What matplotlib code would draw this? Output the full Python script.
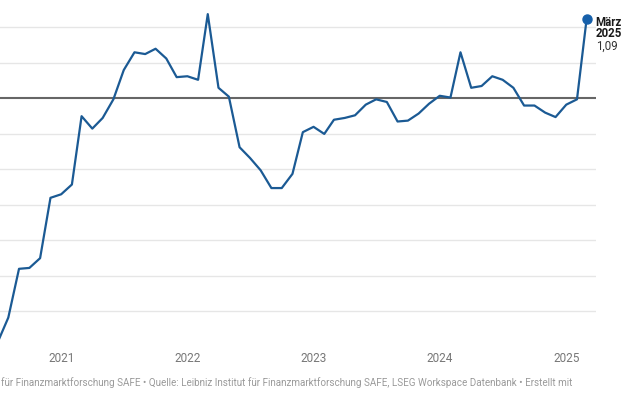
import pandas as pd
import matplotlib.pyplot as plt
import matplotlib.dates as mdates

plt.rcParams['font.family'] = ['Roboto', 'DejaVu Sans']

months = pd.date_range("2020-07-01", "2025-03-01", freq="MS")
values = [
    0.725, 0.753, 0.808, 0.809, 0.820, 0.888,             # 2020 Jul-Dec
    0.892, 0.903, 0.980, 0.966, 0.978, 0.999,             # 2021
    1.032, 1.052, 1.050, 1.056, 1.045, 1.024,
    1.025, 1.021, 1.095, 1.012, 1.002, 0.945,             # 2022
    0.933, 0.919, 0.899, 0.899, 0.915, 0.962,
    0.968, 0.960, 0.976, 0.978, 0.981, 0.993,             # 2023
    0.999, 0.996, 0.974, 0.975, 0.983, 0.994,
    1.003, 1.001, 1.052, 1.012, 1.014, 1.025,             # 2024
    1.021, 1.012, 0.992, 0.992, 0.984, 0.979,
    0.993, 0.999, 1.09,                                   # 2025
]
gridlines = [0.76, 0.80, 0.84, 0.88, 0.92, 0.96, 1.04, 1.08]
baseline = 1.0
years = ["2021", "2022", "2023", "2024", "2025"]

fig = plt.figure(figsize=(6.3, 4.12), dpi=100)
ax = fig.add_axes([0, 0.158, 596 / 630, 0.840])

for g in gridlines:
    ax.axhline(g, color="#e6e6e6", lw=1, zorder=1)
ax.axhline(baseline, color="#666666", lw=1.5, zorder=2)

ax.plot(months, values, color="#1b5a94", lw=1.6, zorder=3)
ax.plot(months[-1], values[-1], "o", color="#1660aa", ms=6.5, zorder=4)

ax.set_xlim(pd.Timestamp("2020-07-08"), pd.Timestamp("2025-03-28"))
ax.set_ylim(0.72, 1.11)

ax.set_xticks([pd.Timestamp(y + "-01-01") for y in years])
ax.xaxis.set_major_formatter(mdates.DateFormatter("%Y"))
ax.tick_params(axis="x", length=0, labelsize=8.5, labelcolor="#777777", pad=4)
ax.set_yticks([])
for s in ax.spines.values():
    s.set_visible(False)

# end label, offsets in points
for txt, dy, weight, col in [("März", -2.5, "bold", "#1a1a1a"),
                             ("2025", -11.1, "bold", "#1a1a1a"),
                             ("1,09", -19.7, "normal", "#333333")]:
    ax.annotate(txt, (months[-1], values[-1]), xytext=(6.5, dy),
                textcoords="offset points", ha="left", va="center",
                fontsize=8.3, fontweight=weight, color=col,
                annotation_clip=False)

fig.text(0.002, 1 - 383 / 412, "für Finanzmarktforschung SAFE \u2022 Quelle: Leibniz Institut für "
         "Finanzmarktforschung SAFE, LSEG Workspace Datenbank \u2022 Erstellt mit",
         ha="left", va="center", fontsize=7.1, color="#9a9a9a")

fig.savefig("out.png", dpi=100, facecolor="white")
